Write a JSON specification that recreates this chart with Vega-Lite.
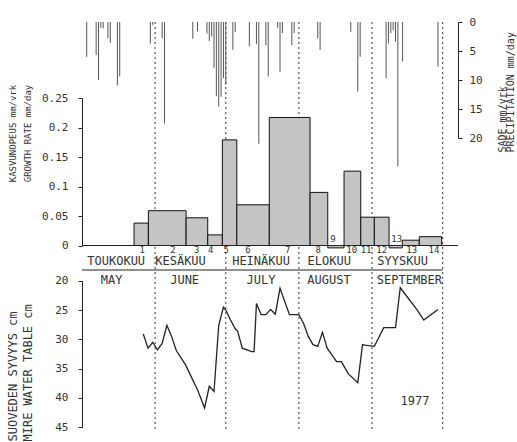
{
  "$schema": "https://vega.github.io/schema/vega-lite/v6.json",
  "width": 376,
  "height": 407,
  "autosize": {"type": "none"},
  "padding": {"left": 82, "top": 22, "right": 59, "bottom": 13},
  "background": "white",
  "config": {
    "view": {"stroke": null},
    "font": "DejaVu Sans Mono",
    "axis": {
      "domainColor": "#222", "tickColor": "#222", "labelColor": "#333", "titleColor": "#333",
      "labelFont": "DejaVu Sans Mono", "titleFont": "DejaVu Sans Mono", "labelFontSize": 11,
      "titleFontWeight": "normal", "grid": false, "tickSize": 4, "domainWidth": 1
    },
    "text": {"font": "DejaVu Sans Mono", "color": "#333"}
  },
  "datasets": {
    "rain": [
      {"date": "1977-05-03", "mm": 6.0}, {"date": "1977-05-07", "mm": 5.7}, {"date": "1977-05-08", "mm": 10.0},
      {"date": "1977-05-09", "mm": 1.0}, {"date": "1977-05-10", "mm": 1.1}, {"date": "1977-05-12", "mm": 2.8},
      {"date": "1977-05-13", "mm": 3.6}, {"date": "1977-05-16", "mm": 10.9}, {"date": "1977-05-17", "mm": 9.4},
      {"date": "1977-05-30", "mm": 3.7}, {"date": "1977-05-31", "mm": 0.5}, {"date": "1977-06-04", "mm": 2.8},
      {"date": "1977-06-05", "mm": 17.5}, {"date": "1977-06-17", "mm": 2.9}, {"date": "1977-06-19", "mm": 1.6},
      {"date": "1977-06-23", "mm": 2.0}, {"date": "1977-06-24", "mm": 3.3}, {"date": "1977-06-25", "mm": 2.5},
      {"date": "1977-06-26", "mm": 7.9}, {"date": "1977-06-27", "mm": 12.8}, {"date": "1977-06-28", "mm": 14.6},
      {"date": "1977-06-29", "mm": 12.9}, {"date": "1977-06-30", "mm": 9.7}, {"date": "1977-07-01", "mm": 10.8},
      {"date": "1977-07-04", "mm": 4.8}, {"date": "1977-07-05", "mm": 1.7}, {"date": "1977-07-11", "mm": 4.2},
      {"date": "1977-07-14", "mm": 3.8}, {"date": "1977-07-15", "mm": 21.0}, {"date": "1977-07-18", "mm": 4.0},
      {"date": "1977-07-19", "mm": 9.4}, {"date": "1977-07-23", "mm": 1.0}, {"date": "1977-07-24", "mm": 8.6},
      {"date": "1977-07-25", "mm": 1.9}, {"date": "1977-07-29", "mm": 4.0}, {"date": "1977-07-30", "mm": 1.9},
      {"date": "1977-08-09", "mm": 2.8}, {"date": "1977-08-10", "mm": 4.8}, {"date": "1977-08-23", "mm": 1.7},
      {"date": "1977-08-26", "mm": 12.0}, {"date": "1977-08-27", "mm": 6.0}, {"date": "1977-09-07", "mm": 9.7},
      {"date": "1977-09-08", "mm": 3.7}, {"date": "1977-09-09", "mm": 1.9}, {"date": "1977-09-10", "mm": 1.4},
      {"date": "1977-09-11", "mm": 3.4}, {"date": "1977-09-12", "mm": 24.9}, {"date": "1977-09-14", "mm": 6.8},
      {"date": "1977-09-29", "mm": 7.7}
    ],
    "growth": [
      {"start": "1977-05-23T02:00:00Z", "end": "1977-05-29T04:00:00Z", "rate": 0.038},
      {"start": "1977-05-29T04:00:00Z", "end": "1977-06-14T04:00:00Z", "rate": 0.059},
      {"start": "1977-06-14T04:00:00Z", "end": "1977-06-23T08:00:00Z", "rate": 0.047},
      {"start": "1977-06-23T08:00:00Z", "end": "1977-06-29T13:00:00Z", "rate": 0.018},
      {"start": "1977-06-29T13:00:00Z", "end": "1977-07-05T16:00:00Z", "rate": 0.179},
      {"start": "1977-07-05T16:00:00Z", "end": "1977-07-19T11:00:00Z", "rate": 0.069},
      {"start": "1977-07-19T11:00:00Z", "end": "1977-08-05T18:00:00Z", "rate": 0.217},
      {"start": "1977-08-05T18:00:00Z", "end": "1977-08-13T06:00:00Z", "rate": 0.090},
      {"start": "1977-08-13T06:00:00Z", "end": "1977-08-20T04:00:00Z", "rate": -0.004},
      {"start": "1977-08-20T04:00:00Z", "end": "1977-08-27T06:00:00Z", "rate": 0.126},
      {"start": "1977-08-27T06:00:00Z", "end": "1977-09-02T00:00:00Z", "rate": 0.048},
      {"start": "1977-09-02T00:00:00Z", "end": "1977-09-08T06:00:00Z", "rate": 0.048},
      {"start": "1977-09-08T06:00:00Z", "end": "1977-09-13T21:00:00Z", "rate": -0.004},
      {"start": "1977-09-13T21:00:00Z", "end": "1977-09-21T02:00:00Z", "rate": 0.009},
      {"start": "1977-09-21T02:00:00Z", "end": "1977-09-30T14:00:00Z", "rate": 0.015}
    ],
    "nums": [
      {"n": "1", "date": "1977-05-26T12:00:00Z", "side": "below"},
      {"n": "2", "date": "1977-06-08T15:00:00Z", "side": "below"},
      {"n": "3", "date": "1977-06-18T17:00:00Z", "side": "below"},
      {"n": "4", "date": "1977-06-24T15:00:00Z", "side": "below"},
      {"n": "5", "date": "1977-07-01T03:00:00Z", "side": "below"},
      {"n": "6", "date": "1977-07-10T10:00:00Z", "side": "below"},
      {"n": "7", "date": "1977-07-27T07:00:00Z", "side": "below"},
      {"n": "8", "date": "1977-08-09T06:00:00Z", "side": "below"},
      {"n": "9", "date": "1977-08-15T12:00:00Z", "side": "above"},
      {"n": "10", "date": "1977-08-23T10:00:00Z", "side": "below"},
      {"n": "11", "date": "1977-08-29T12:00:00Z", "side": "below"},
      {"n": "12", "date": "1977-09-05T03:00:00Z", "side": "below"},
      {"n": "13", "date": "1977-09-11T12:00:00Z", "side": "above"},
      {"n": "13", "date": "1977-09-17T21:00:00Z", "side": "below"},
      {"n": "14", "date": "1977-09-27T08:00:00Z", "side": "below"}
    ],
    "water": [
      {"date": "1977-05-27", "depth": 29.1}, {"date": "1977-05-29", "depth": 31.5}, {"date": "1977-05-31", "depth": 30.5},
      {"date": "1977-06-02", "depth": 31.8}, {"date": "1977-06-04", "depth": 30.7}, {"date": "1977-06-06", "depth": 27.6},
      {"date": "1977-06-08", "depth": 29.5}, {"date": "1977-06-10", "depth": 31.9}, {"date": "1977-06-14", "depth": 34.4},
      {"date": "1977-06-16", "depth": 36.1}, {"date": "1977-06-19", "depth": 38.6}, {"date": "1977-06-22", "depth": 41.7},
      {"date": "1977-06-24", "depth": 38.0}, {"date": "1977-06-26", "depth": 38.9}, {"date": "1977-06-28", "depth": 27.6},
      {"date": "1977-06-30", "depth": 24.5}, {"date": "1977-07-01", "depth": 25.0}, {"date": "1977-07-03", "depth": 26.7},
      {"date": "1977-07-05", "depth": 28.2}, {"date": "1977-07-06", "depth": 28.6}, {"date": "1977-07-08", "depth": 31.5},
      {"date": "1977-07-12", "depth": 32.1}, {"date": "1977-07-13", "depth": 32.1}, {"date": "1977-07-14", "depth": 23.9},
      {"date": "1977-07-16", "depth": 25.8}, {"date": "1977-07-18", "depth": 25.8}, {"date": "1977-07-20", "depth": 24.9},
      {"date": "1977-07-22", "depth": 25.7}, {"date": "1977-07-24", "depth": 21.3}, {"date": "1977-07-28", "depth": 25.8},
      {"date": "1977-08-01", "depth": 25.8}, {"date": "1977-08-03", "depth": 27.3}, {"date": "1977-08-05", "depth": 29.5},
      {"date": "1977-08-07", "depth": 30.9}, {"date": "1977-08-09", "depth": 31.2}, {"date": "1977-08-11", "depth": 28.8},
      {"date": "1977-08-13", "depth": 31.5}, {"date": "1977-08-17", "depth": 33.8}, {"date": "1977-08-19", "depth": 33.8},
      {"date": "1977-08-22", "depth": 35.9}, {"date": "1977-08-26", "depth": 37.4}, {"date": "1977-08-28", "depth": 30.9},
      {"date": "1977-08-29", "depth": 31.0}, {"date": "1977-09-02", "depth": 31.2}, {"date": "1977-09-06", "depth": 28.0},
      {"date": "1977-09-11", "depth": 28.0}, {"date": "1977-09-13", "depth": 21.2}, {"date": "1977-09-20", "depth": 24.9},
      {"date": "1977-09-23", "depth": 26.7}, {"date": "1977-09-29", "depth": 24.9}
    ],
    "notes": [
      {"date": "1977-09-19T07:00:00Z", "depth": 40.5, "label": "1977"}
    ],
    "months": [
      {"row": "fi", "name": "TOUKOKUU", "date": "1977-05-15T12:00:00Z"},
      {"row": "fi", "name": "KESÄKUU", "date": "1977-06-11T19:00:00Z"},
      {"row": "fi", "name": "HEINÄKUU", "date": "1977-07-15T23:00:00Z"},
      {"row": "fi", "name": "ELOKUU", "date": "1977-08-13T21:00:00Z"},
      {"row": "fi", "name": "SYYSKUU", "date": "1977-09-14T00:00:00Z"},
      {"row": "en", "name": "MAY", "date": "1977-05-13T14:00:00Z"},
      {"row": "en", "name": "JUNE", "date": "1977-06-13T13:00:00Z"},
      {"row": "en", "name": "JULY", "date": "1977-07-15T23:00:00Z"},
      {"row": "en", "name": "AUGUST", "date": "1977-08-13T19:00:00Z"},
      {"row": "en", "name": "SEPTEMBER", "date": "1977-09-16T21:00:00Z"}
    ],
    "bounds": [
      {"date": "1977-06-01"}, {"date": "1977-07-01"}, {"date": "1977-08-01"}, {"date": "1977-09-01"}, {"date": "1977-10-01"}
    ]
  },
  "layer": [
    {
      "data": {"name": "bounds"},
      "mark": {"type": "rule", "color": "#333", "strokeWidth": 1, "strokeDash": [2, 3]},
      "encoding": {
        "x": {"field": "date", "type": "temporal", "axis": null,
              "scale": {"type": "utc", "domain": [{"year": 1977, "month": 5, "date": 1, "utc": true}, {"year": 1977, "month": 10, "date": 7, "hours": 12, "utc": true}]}}
      }
    },
    {
      "encoding": {
        "y": {"field": "mm", "type": "quantitative",
              "scale": {"domain": [0, 20], "range": [0, 116]},
              "axis": {"orient": "right", "values": [0, 5, 10, 15, 20], "labelPadding": 7,
                       "title": ["SADE mm/vrk", "PRECIPITATION mm/day"], "titleAngle": 270,
                       "titleAlign": "left", "titleBaseline": "middle", "titleX": 44, "titleY": 130,
                       "titleFontSize": 10, "titleLineHeight": 8.5}}
      },
      "layer": [
        {
          "data": {"name": "rain"},
          "mark": {"type": "rule", "color": "#555", "strokeWidth": 1},
          "encoding": {
            "x": {"field": "date", "type": "temporal", "axis": null,
                  "scale": {"type": "utc", "domain": [{"year": 1977, "month": 5, "date": 1, "utc": true}, {"year": 1977, "month": 10, "date": 7, "hours": 12, "utc": true}]}},
            "y2": {"datum": 0}
          }
        },
        {
          "data": {"values": [{}]},
          "mark": {"type": "rule", "color": "#222", "strokeWidth": 1.2},
          "encoding": {"y": {"datum": 0, "type": "quantitative"}}
        }
      ]
    },
    {
      "layer": [
        {
          "data": {"name": "growth"},
          "mark": {"type": "rect", "fill": "#c4c4c4", "stroke": "#111", "strokeWidth": 1},
          "encoding": {
            "x": {"field": "start", "type": "temporal", "axis": null,
                  "scale": {"type": "utc", "domain": [{"year": 1977, "month": 5, "date": 1, "utc": true}, {"year": 1977, "month": 10, "date": 7, "hours": 12, "utc": true}]}},
            "x2": {"field": "end"},
            "y": {"field": "rate", "type": "quantitative",
                  "scale": {"domain": [0, 0.25], "range": [223.5, 76], "nice": false, "zero": false},
                  "axis": {"orient": "left", "values": [0, 0.05, 0.1, 0.15, 0.2, 0.25], "format": ".2~f", "labelPadding": 10,
                           "title": ["KASVUNOPEUS mm/vrk", "GROWTH RATE mm/day"], "titleAngle": 270,
                           "titleAlign": "center", "titleBaseline": "middle", "titleX": -69.5, "titleY": 111,
                           "titleFontSize": 9, "titleLineHeight": 15}},
            "y2": {"datum": 0}
          }
        },
        {
          "data": {"values": [{}]},
          "mark": {"type": "rule", "color": "#222", "strokeWidth": 1.2},
          "encoding": {"y": {"datum": 0, "type": "quantitative",
                             "scale": {"domain": [0, 0.25], "range": [223.5, 76], "nice": false, "zero": false}}}
        },
        {
          "data": {"name": "nums"},
          "transform": [{"filter": "datum.side === 'below'"}],
          "mark": {"type": "text", "baseline": "top", "dy": 0, "fontSize": 9},
          "encoding": {
            "x": {"field": "date", "type": "temporal", "axis": null,
                  "scale": {"type": "utc", "domain": [{"year": 1977, "month": 5, "date": 1, "utc": true}, {"year": 1977, "month": 10, "date": 7, "hours": 12, "utc": true}]}},
            "y": {"datum": 0, "type": "quantitative",
                  "scale": {"domain": [0, 0.25], "range": [223.5, 76], "nice": false, "zero": false}},
            "text": {"field": "n", "type": "nominal"}
          }
        },
        {
          "data": {"name": "nums"},
          "transform": [{"filter": "datum.side === 'above'"}],
          "mark": {"type": "text", "baseline": "bottom", "dy": -2, "fontSize": 9},
          "encoding": {
            "x": {"field": "date", "type": "temporal", "axis": null,
                  "scale": {"type": "utc", "domain": [{"year": 1977, "month": 5, "date": 1, "utc": true}, {"year": 1977, "month": 10, "date": 7, "hours": 12, "utc": true}]}},
            "y": {"datum": 0, "type": "quantitative",
                  "scale": {"domain": [0, 0.25], "range": [223.5, 76], "nice": false, "zero": false}},
            "text": {"field": "n", "type": "nominal"}
          }
        }
      ]
    },
    {
      "encoding": {
        "y": {"field": "depth", "type": "quantitative",
              "scale": {"domain": [20, 45], "range": [258.7, 405.3]},
              "axis": {"orient": "left", "values": [20, 25, 30, 35, 40, 45], "labelPadding": 10,
                       "title": ["SUOVEDEN SYVYYS cm", "MIRE WATER TABLE cm"], "titleAngle": 270,
                       "titleAlign": "left", "titleBaseline": "middle", "titleX": -70, "titleY": 419,
                       "titleFontSize": 12, "titleLineHeight": 15}}
      },
      "layer": [
        {
          "data": {"name": "water"},
          "mark": {"type": "line", "color": "#222", "strokeWidth": 1.3},
          "encoding": {
            "x": {"field": "date", "type": "temporal", "axis": null,
                  "scale": {"type": "utc", "domain": [{"year": 1977, "month": 5, "date": 1, "utc": true}, {"year": 1977, "month": 10, "date": 7, "hours": 12, "utc": true}]}}
          }
        },
        {
          "data": {"name": "notes"},
          "mark": {"type": "text", "fontSize": 12},
          "encoding": {
            "x": {"field": "date", "type": "temporal", "axis": null,
                  "scale": {"type": "utc", "domain": [{"year": 1977, "month": 5, "date": 1, "utc": true}, {"year": 1977, "month": 10, "date": 7, "hours": 12, "utc": true}]}},
            "text": {"field": "label", "type": "nominal"}
          }
        }
      ]
    },
    {
      "encoding": {
        "y": {"field": "row", "type": "ordinal",
              "scale": {"type": "point", "domain": ["fi", "line", "en"], "range": [238.5, 257.5], "padding": 0},
              "axis": null}
      },
      "layer": [
        {
          "data": {"name": "months"},
          "mark": {"type": "text", "fontSize": 12, "baseline": "middle"},
          "encoding": {
            "x": {"field": "date", "type": "temporal", "axis": null,
                  "scale": {"type": "utc", "domain": [{"year": 1977, "month": 5, "date": 1, "utc": true}, {"year": 1977, "month": 10, "date": 7, "hours": 12, "utc": true}]}},
            "text": {"field": "name"}
          }
        },
        {
          "data": {"values": [{}]},
          "mark": {"type": "rule", "color": "#222", "strokeWidth": 1.2},
          "encoding": {
            "y": {"datum": "line", "type": "ordinal"},
            "x": {"datum": {"year": 1977, "month": 5, "date": 1, "utc": true}, "type": "temporal"},
            "x2": {"datum": {"year": 1977, "month": 10, "date": 1, "utc": true}}
          }
        }
      ]
    }
  ],
  "resolve": {"scale": {"y": "independent"}, "axis": {"y": "independent"}}
}
